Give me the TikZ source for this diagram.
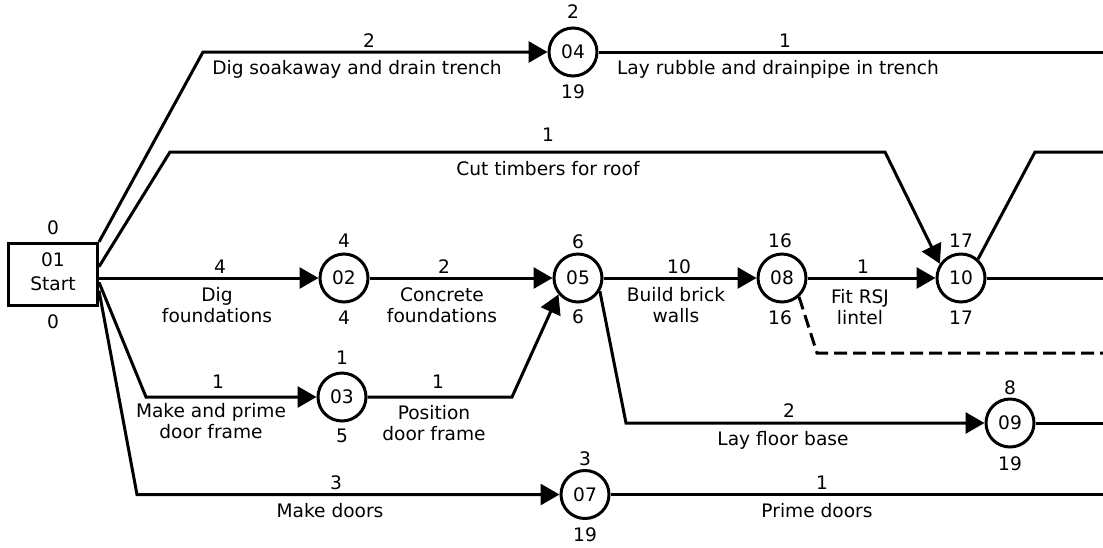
\documentclass[tikz,border=0pt]{standalone}
\usepackage{fontspec}
\setmainfont{DejaVu Sans}
\usetikzlibrary{arrows.meta,calc}
\begin{document}
\begin{tikzpicture}[x=1pt,y=-1pt,
  every node/.style={font=\fontsize{18.6}{21}\selectfont},
  ev/.style={circle,draw,line width=3pt,minimum size=48pt,inner sep=0pt},
  startbox/.style={draw,line width=3pt,minimum width=89pt,minimum height=62pt,align=center,inner sep=0pt,text depth=6pt},
  act/.style={line width=3pt,-{Triangle[length=19pt,width=21pt]}},
  ln/.style={line width=3pt},
  dummy/.style={line width=3pt,dash pattern=on 13pt off 6pt},
  tx/.style={anchor=base,inner sep=0pt,align=center},
]
\useasboundingbox (0,0) rectangle (1103,547);

% events
\node[startbox] (start) at (53,274.5) {01\\[3pt]Start};
\node[ev] (n04) at (573,52) {04};
\node[ev] (n02) at (344,278) {02};
\node[ev] (n05) at (578,278) {05};
\node[ev] (n08) at (782,278) {08};
\node[ev] (n10) at (961,278) {10};
\node[ev] (n03) at (342,397) {03};
\node[ev] (n09) at (1010,423) {09};
\node[ev] (n07) at (585,494.5) {07};

% event times
\node[tx] (t01a) at (53,234.5) {0};
\node[tx] (t01b) at (53,328.5) {0};
\node[tx] (t04a) at (573,18) {2};
\node[tx] (t04b) at (573,98) {19};
\node[tx] (t02a) at (344,247) {4};
\node[tx] (t02b) at (344,324) {4};
\node[tx] (t05a) at (578,248) {6};
\node[tx] (t05b) at (578,323) {6};
\node[tx] (t08a) at (780,247) {16};
\node[tx] (t08b) at (780,324) {16};
\node[tx] (t10a) at (961,247) {17};
\node[tx] (t10b) at (961,324) {17};
\node[tx] (t03a) at (342,364) {1};
\node[tx] (t03b) at (342,442) {5};
\node[tx] (t09a) at (1010,394) {8};
\node[tx] (t09b) at (1010,470) {19};
\node[tx] (t07a) at (585,465) {3};
\node[tx] (t07b) at (585,541) {19};

% bend and end points
\coordinate (b1) at (203,52);
\coordinate (b2a) at (170,152);
\coordinate (b2b) at (885,152);
\coordinate (b5) at (146,397);
\coordinate (b6) at (512,397);
\coordinate (b7) at (137,494.5);
\coordinate (b10) at (626,423);
\coordinate (b11) at (817,353);
\coordinate (e11) at (1103,353);
\coordinate (b12) at (1035,152);
\coordinate (e12) at (1103,152);
\coordinate (e13) at (1103,278);
\coordinate (e14) at (1103,52);
\coordinate (e15) at (1103,423);
\coordinate (e16) at (1103,494.5);

% activities
\draw[act] (start.north east) -- (b1) -- (n04);
\draw[act] ($(start.north east)!0.38!(start.south east)$) -- (b2a) -- (b2b) -- (n10.146);
\draw[act] (start.east |- n02) -- (n02);
\draw[act] ($(start.north east)!0.62!(start.south east)$) -- (b5) -- (n03);
\draw[act] ($(start.north east)!0.75!(start.south east)$) -- (b7) -- (n07);
\draw[act] (n02) -- (n05);
\draw[act] (n03) -- (b6) -- (n05.220);
\draw[act] (n05) -- (n08);
\draw[act] (n08) -- (n10);
\draw[act] (n05.-31) -- (b10) -- (n09);
\draw[dummy] (n08.-48) -- (b11) -- (e11);
\draw[ln] (n10.48) -- (b12) -- (e12);
\draw[ln] (n10) -- (e13);
\draw[ln] (n04) -- (e14);
\draw[ln] (n09) -- (e15);
\draw[ln] (n07) -- (e16);

% activity labels
\node[tx] (d1) at (369,47) {2};
\node[tx] (l1) at (357,74) {Dig soakaway and drain trench};
\node[tx] (d14) at (785,47) {1};
\node[tx] (l14) at (778,74) {Lay rubble and drainpipe in trench};
\node[tx] (d2) at (548,141) {1};
\node[tx] (l2) at (548,175) {Cut timbers for roof};
\node[tx] (d3) at (220,273) {4};
\node[tx] (l3) at (217,322) {Dig\\foundations};
\node[tx] (d4) at (444,273) {2};
\node[tx] (l4) at (442,322) {Concrete\\foundations};
\node[tx] (d8) at (679,273) {10};
\node[tx] (l8) at (676,322) {Build brick\\walls};
\node[tx] (d9) at (863,273) {1};
\node[tx] (l9) at (860,324) {Fit RSJ\\lintel};
\node[tx] (d5) at (218,388) {1};
\node[tx] (l5) at (211,438) {Make and prime\\door frame};
\node[tx] (d6) at (438,388) {1};
\node[tx] (l6) at (434,440) {Position\\door frame};
\node[tx] (d10) at (789,417) {2};
\node[tx] (l10) at (783,445) {Lay floor base};
\node[tx] (d7) at (336,489) {3};
\node[tx] (l7) at (330,517) {Make doors};
\node[tx] (d16) at (822,489) {1};
\node[tx] (l16) at (817,517) {Prime doors};
\end{tikzpicture}
\end{document}
